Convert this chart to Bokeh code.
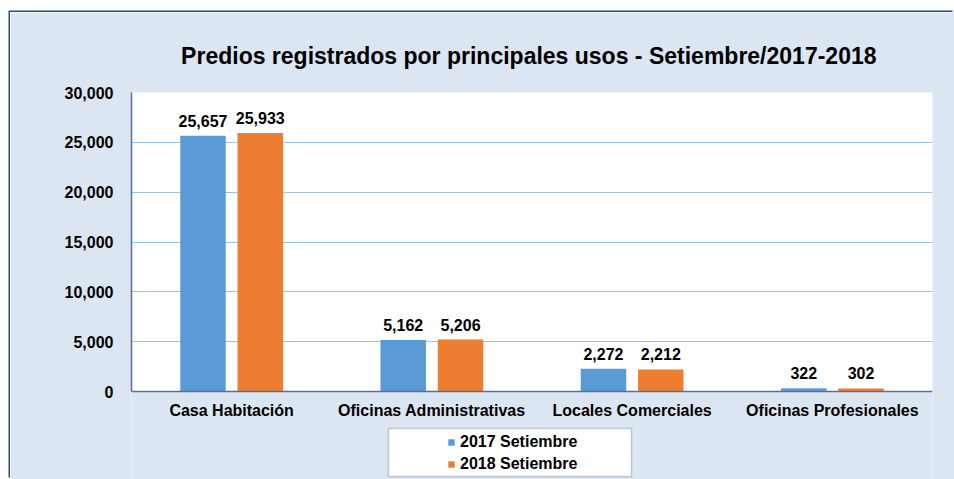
from bokeh.plotting import figure
from bokeh.models import (ColumnDataSource, LabelSet, Legend, LegendItem, BoxAnnotation,
                          FactorRange, Range1d, NumeralTickFormatter, FixedTicker)
from bokeh.core.properties import value
from bokeh.transform import dodge
from bokeh.embed import file_html
from bokeh.resources import INLINE

# ---------------- data ----------------
categories = ["Casa Habitación", "Oficinas Administrativas", "Locales Comerciales", "Oficinas Profesionales"]
series_names = ["2017 Setiembre", "2018 Setiembre"]
values_2017 = [25657, 5162, 2272, 322]
values_2018 = [25933, 5206, 2212, 302]
y_ticks = [0, 5000, 10000, 15000, 20000, 25000, 30000]
title_text = "Predios registrados por principales usos -  Setiembre/2017-2018"

FONT = "Liberation Sans"
BLUE = "#5B9BD5"
ORANGE = "#ED7D31"
BG = "#DCE6F2"
AXIS = "#5A6F96"
GRID = "#9DC3E6"

# layout (pixels)
W, H = 944, 467
FRAME_L, FRAME_R, FRAME_T = 121, 22, 80
PLOT_H = 299            # pixel height of the 0..30000 plotting area
frame_h = H - FRAME_T
y_top = y_ticks[-1]
y_bottom = -(frame_h - PLOT_H) * y_top / PLOT_H

src = ColumnDataSource(dict(
    cat=categories,
    v2017=values_2017,
    v2018=values_2018,
    l2017=[f"{v:,}" for v in values_2017],
    l2018=[f"{v:,}" for v in values_2018],
))

p = figure(width=W, height=H,
           x_range=FactorRange(*categories, range_padding=0),
           y_range=Range1d(y_bottom, y_top),
           output_backend="svg", toolbar_location=None,
           min_border_left=FRAME_L, min_border_right=FRAME_R,
           min_border_top=FRAME_T, min_border_bottom=0,
           border_fill_color=BG, background_fill_color=BG,
           outline_line_color=None)
p.margin = (12, 0, 0, 10)
p.styles = {"box-shadow": "-1.5px -1.5px 0 0 #2F4A7A"}

# white plotting area (0 .. top of axis)
p.add_layout(BoxAnnotation(bottom=0, top=y_top, fill_color="white", fill_alpha=1,
                           line_color=None, level="image"))

# title
p.title.text = title_text
p.title.align = "center"
p.title.text_font = FONT
p.title.text_font_size = "23px"
p.title.text_font_style = "bold"
p.title.text_color = "black"
p.title.standoff = 48

off = 0.143
w = 0.227
r1 = p.vbar(x=dodge("cat", -off, range=p.x_range), top="v2017", width=w, source=src,
            fill_color=BLUE, line_color=None)
r2 = p.vbar(x=dodge("cat", off, range=p.x_range), top="v2018", width=w, source=src,
            fill_color=ORANGE, line_color=None)

for xo, col, lab in [(-off, "v2017", "l2017"), (off, "v2018", "l2018")]:
    p.add_layout(LabelSet(x=dodge("cat", xo, range=p.x_range), y=col, text=lab, source=src,
                          y_offset=9, text_align="center", text_baseline="alphabetic",
                          text_font=value(FONT), text_font_size=value("16px"),
                          text_font_style=value("bold"), text_color="black"))

# axes
p.yaxis.ticker = FixedTicker(ticks=y_ticks)
p.yaxis.formatter = NumeralTickFormatter(format="0,0")
p.yaxis.bounds = (0, y_top)
p.xaxis.fixed_location = 0
for ax in (p.xaxis[0], p.yaxis[0]):
    ax.axis_line_color = AXIS
    ax.axis_line_width = 1.5
    ax.major_tick_line_color = None
    ax.minor_tick_line_color = None
    ax.major_label_text_font = FONT
    ax.major_label_text_font_size = "16px"
    ax.major_label_text_font_style = "bold"
    ax.major_label_text_color = "black"
p.yaxis.major_label_standoff = 12
p.xaxis.major_label_standoff = 4
p.xgrid.grid_line_color = None
p.ygrid.grid_line_color = GRID
p.ygrid.grid_line_width = 1

# legend box
p.add_layout(BoxAnnotation(left=378, right=621, top=416, bottom=464,
                           left_units="canvas", right_units="canvas",
                           top_units="canvas", bottom_units="canvas",
                           fill_color="white", fill_alpha=1,
                           line_color="#555F70", line_width=1.5))

legend = Legend(items=[LegendItem(label=series_names[0], renderers=[r1]),
                       LegendItem(label=series_names[1], renderers=[r2])],
                location=(316, 5), orientation="vertical",
                padding=0, margin=0, spacing=2,
                glyph_width=8, glyph_height=8, label_height=20, label_standoff=5,
                label_text_font=FONT, label_text_font_size="16px",
                label_text_font_style="bold", label_text_color="black",
                background_fill_alpha=0, border_line_color=None)
p.add_layout(legend)

open("out.html", "w").write(file_html(p, INLINE))
